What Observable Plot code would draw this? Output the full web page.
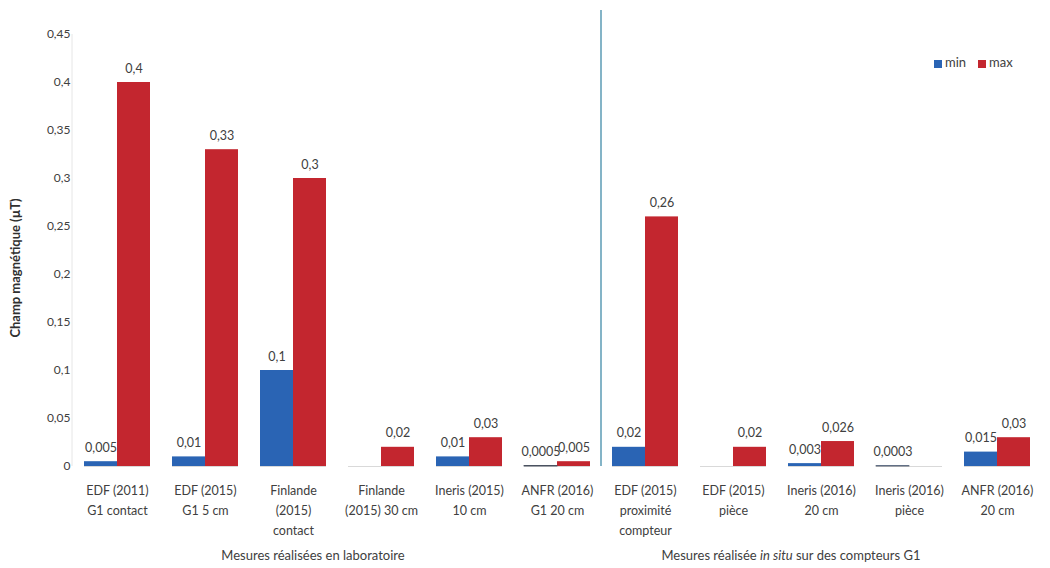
<!DOCTYPE html>
<html>
<head>
<meta charset="utf-8">
<script src="https://cdn.jsdelivr.net/npm/d3@7"></script>
<script src="https://cdn.jsdelivr.net/npm/@observablehq/plot@0.6"></script>
<style>
  html, body { margin: 0; padding: 0; background: #fff; }
  #wrap { position: relative; width: 1050px; height: 568px; font-family: Lato, "Open Sans", sans-serif; color: #404040; }
  .legend { position: absolute; top: 54px; left: 934px; font-size: 13px; display: flex; gap: 12px; align-items: center; }
  .legend span.sw { display: inline-block; width: 8px; height: 8px; margin-right: 3px; vertical-align: middle; }
  .group-title { position: absolute; top: 547px; transform: translateX(-50%); font-size: 13px; white-space: nowrap; }
</style>
</head>
<body>
<div id="wrap"></div>
<script>
const categories = [
  "EDF (2011)\nG1 contact",
  "EDF (2015)\nG1 5 cm",
  "Finlande\n(2015)\ncontact",
  "Finlande\n(2015) 30 cm",
  "Ineris (2015)\n10 cm",
  "ANFR (2016)\nG1 20 cm",
  "EDF (2015)\nproximité\ncompteur",
  "EDF (2015)\npièce",
  "Ineris (2016)\n20 cm",
  "Ineris (2016)\npièce",
  "ANFR (2016)\n20 cm"
];
const minValues = [0.005, 0.01, 0.1, null, 0.01, 0.0005, 0.02, null, 0.003, 0.0003, 0.015];
const maxValues = [0.4, 0.33, 0.3, 0.02, 0.03, 0.005, 0.26, 0.02, 0.026, null, 0.03];
const series = ["min", "max"];
const seriesColors = ["#2a64b4", "#c3262f"];
const yTicks = [0, 0.05, 0.1, 0.15, 0.2, 0.25, 0.3, 0.35, 0.4, 0.45];
const groupTitles = ["Mesures réalisées en laboratoire", "Mesures réalisée <i>in situ</i> sur des compteurs G1"];
const yTitle = "Champ magnétique (µT)";

const rows = [];
categories.forEach((c, i) => {
  if (minValues[i] != null) rows.push({cat: c, s: "min", v: minValues[i]});
  if (maxValues[i] != null) rows.push({cat: c, s: "max", v: maxValues[i]});
});
const fr = v => String(v).replace(".", ",");

const plot = Plot.plot({
  width: 1050,
  height: 540,
  marginTop: 34,
  marginBottom: 74,
  marginLeft: 70,
  marginRight: 6,
  style: {fontFamily: "Lato, 'Open Sans', sans-serif", color: "#404040", background: "#fff"},
  fx: {domain: categories, paddingInner: 0.25, paddingOuter: 0.1, label: null},
  x: {domain: series, padding: 0, axis: null},
  y: {domain: [0, 0.45], ticks: yTicks, label: null},
  color: {domain: series, range: seriesColors},
  marks: [
    Plot.axisFx({anchor: "bottom", tickSize: 0, tickPadding: 14, fontSize: 12.5, lineHeight: 1.6, label: null}),
    Plot.axisY({ticks: yTicks, tickSize: 0, tickPadding: 14, fontSize: 12, tickFormat: fr, label: null}),
    Plot.ruleY([0], {stroke: "#d9d9d9"}),
    Plot.barY(rows, {fx: "cat", x: "s", y: "v", fill: "s"}),
    Plot.barY(rows.filter(d => d.v < 0.001), {fx: "cat", x: "s", y: "v", fill: "s", stroke: "#4a5260", strokeWidth: 0.8}),
    Plot.text(rows, {fx: "cat", x: "s", y: "v", text: d => fr(d.v), dy: -14, fontSize: 12.5, fill: "#404040"})
  ]
});

const wrap = document.getElementById("wrap");
wrap.appendChild(plot);

const svg = d3.select(plot);
const fx = plot.scale("fx");
const y = plot.scale("y");
svg.append("line")
  .attr("x1", 72).attr("x2", 72)
  .attr("y1", y.apply(0.45)).attr("y2", y.apply(0))
  .attr("stroke", "#e6e6e6");
const sepX = (fx.apply(categories[5]) + fx.bandwidth + fx.apply(categories[6])) / 2;
svg.append("line")
  .attr("x1", sepX).attr("x2", sepX)
  .attr("y1", 10).attr("y2", y.apply(0))
  .attr("stroke", "#5b9bb5").attr("stroke-width", 1.5);
svg.append("text")
  .attr("transform", `translate(20,${(y.apply(0.45) + y.apply(0)) / 2 + 18}) rotate(-90)`)
  .attr("text-anchor", "middle")
  .attr("font-size", 13)
  .attr("font-weight", "bold")
  .attr("fill", "#303030")
  .text(yTitle);

const leg = document.createElement("div");
leg.className = "legend";
leg.innerHTML = series.map((s, i) => `<span><span class="sw" style="background:${seriesColors[i]}"></span>${s}</span>`).join("");
wrap.appendChild(leg);

[313, 791].forEach((cx, i) => {
  const d = document.createElement("div");
  d.className = "group-title";
  d.style.left = cx + "px";
  d.innerHTML = groupTitles[i];
  wrap.appendChild(d);
});
</script>
</body>
</html>
